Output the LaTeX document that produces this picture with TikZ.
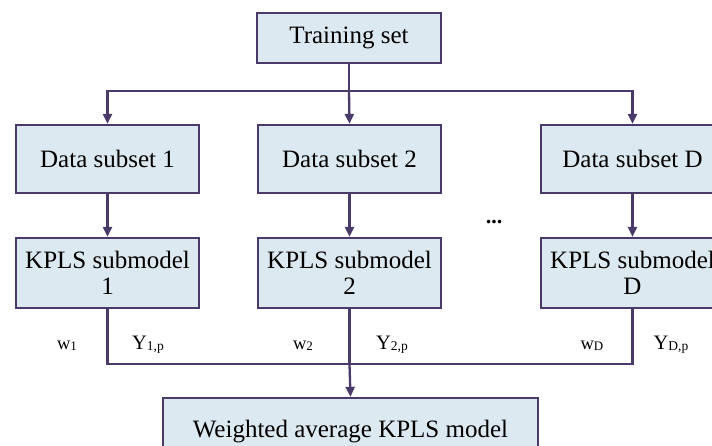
\documentclass[tikz,border=0pt]{standalone}
\usepackage{fontspec}
\setmainfont{Liberation Serif}
\usetikzlibrary{arrows.meta}
\definecolor{boxfill}{HTML}{DDE9F0}
\definecolor{edge}{HTML}{4A3A6A}
\tikzset{
  blk/.style={draw=edge, fill=boxfill, line width=2.3pt, inner sep=0pt,
    font=\fontsize{25}{28}\selectfont, align=center},
  conn/.style={draw=edge, line width=2.3pt},
  arr/.style={conn, -{Triangle[length=10pt,width=9pt]}},
  wlab/.style={font=\fontsize{18.5}{20}\selectfont, inner sep=0pt, anchor=base},
  ylab/.style={font=\fontsize{20.5}{22}\selectfont, inner sep=0pt, anchor=base},
}
\newcommand{\wsub}[2]{#1\raisebox{-1pt}{\fontsize{13}{14}\selectfont #2}}
\newcommand{\ysub}[2]{#1\raisebox{-1pt}{\fontsize{13.5}{14}\selectfont #2}}
\begin{document}
\begin{tikzpicture}[x=1pt,y=-1pt]
\useasboundingbox (0,0) rectangle (712,446);
\clip (0,0) rectangle (712,446);

% top node and the three data subsets
\node[blk, minimum width=184pt, minimum height=50pt] (train) at (349,38) {Training set};
\node[blk, minimum width=183pt, minimum height=68pt] (d1) at (107.5,159) {Data subset 1};
\node[blk, minimum width=183pt, minimum height=68pt] (d2) at (349.5,159) {Data subset 2};
\node[blk, minimum width=183pt, minimum height=68pt] (dD) at (632.5,159) {Data subset D};

% submodels
\node[blk, minimum width=183pt, minimum height=70pt] (k1) at (107.5,273) {KPLS submodel\\[-2pt]1};
\node[blk, minimum width=183pt, minimum height=70pt] (k2) at (349.5,273) {KPLS submodel\\[-2pt]2};
\node[blk, minimum width=183pt, minimum height=70pt] (kD) at (632.5,273) {KPLS submodel\\[-2pt]D};

% combined model
\node[blk, minimum width=375pt, minimum height=68pt] (avg) at (350.5,432) {Weighted average KPLS model};

\node[font=\fontsize{22}{22}\selectfont\bfseries, inner sep=0pt] (dots) at (494,222) {...};

% split of the training set
\coordinate (split) at (349,91);
\draw[conn] (train.south) -- (split);
\draw[arr] (split) -| (d1.north);
\draw[arr] (split) -- (d2.north);
\draw[arr] (split) -| (dD.north);

\draw[arr] (d1.south) -- (k1.north);
\draw[arr] (d2.south) -- (k2.north);
\draw[arr] (dD.south) -- (kD.north);

% merge of the submodel outputs
\coordinate (merge) at (349.5,364);
\draw[conn] (k1.south) |- (merge);
\draw[conn] (kD.south) |- (merge);
\draw[conn] (k2.south) -- (merge);
\draw[arr] (merge) -- (avg.north);

% weights and outputs
\node[wlab] (w1) at (67,349) {\wsub{w}{1}};
\node[ylab] (y1) at (148,349) {\ysub{Y}{1,p}};
\node[wlab] (w2) at (303,349) {\wsub{w}{2}};
\node[ylab] (y2) at (392,349) {\ysub{Y}{2,p}};
\node[wlab] (wD) at (592,349) {\wsub{w}{D}};
\node[ylab] (yD) at (671,349) {\ysub{Y}{D,p}};
\end{tikzpicture}
\end{document}
